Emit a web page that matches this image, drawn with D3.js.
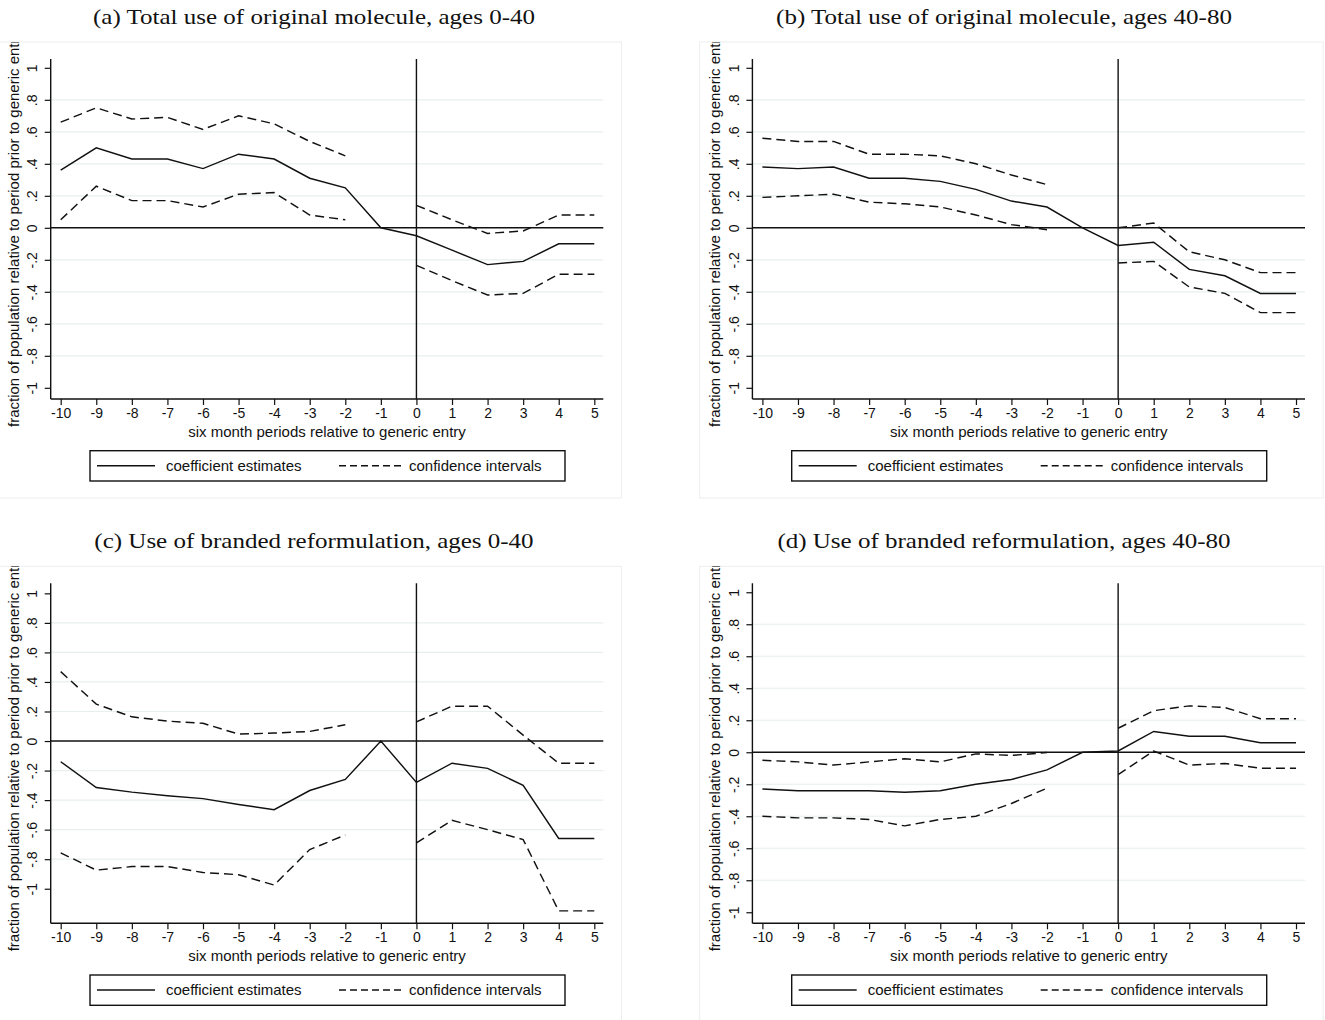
<!DOCTYPE html>
<html>
<head>
<meta charset="utf-8">
<script src="https://cdn.jsdelivr.net/npm/d3@7/dist/d3.min.js"></script>
<style>
  html, body { margin: 0; padding: 0; background: #fff; }
  svg { display: block; }
  .sans { font-family: "Liberation Sans", Arial, Helvetica, sans-serif; fill: #111; }
  .serif { font-family: "Liberation Serif", "DejaVu Serif", serif; fill: #111; }
</style>
</head>
<body>
<svg id="chart" width="1325" height="1020"></svg>
<script>
// Six-month periods relative to generic entry
const periods = [-10, -9, -8, -7, -6, -5, -4, -3, -2, -1, 0, 1, 2, 3, 4, 5];
const periodLabels = ["-10", "-9", "-8", "-7", "-6", "-5", "-4", "-3", "-2", "-1", "0", "1", "2", "3", "4", "5"];

// Y-axis ticks and their Stata-style labels
const yTicks = [-1, -0.8, -0.6, -0.4, -0.2, 0, 0.2, 0.4, 0.6, 0.8, 1];
const yTickLabels = ["-1", "-.8", "-.6", "-.4", "-.2", "0", ".2", ".4", ".6", ".8", "1"];
const gridValues = [-0.8, -0.6, -0.4, -0.2, 0.2, 0.4, 0.6, 0.8];

const panelTitles = [
  "(a) Total use of original molecule, ages 0-40",
  "(b) Total use of original molecule, ages 40-80",
  "(c) Use of branded reformulation, ages 0-40",
  "(d) Use of branded reformulation, ages 40-80"
];

const yAxisTitle = "fraction of population relative to period prior to generic entry";
const xAxisTitle = "six month periods relative to generic entry";
const legendLabels = ["coefficient estimates", "confidence intervals"];

// (a) total use of original molecule, ages 0-40
const aCoef  = [0.36, 0.50, 0.43, 0.43, 0.37, 0.46, 0.43, 0.31, 0.25, 0, -0.05, -0.14, -0.23, -0.21, -0.10, -0.10];
const aUpper = [0.66, 0.75, 0.68, 0.69, 0.615, 0.70, 0.65, 0.54, 0.45, null, 0.14, 0.05, -0.035, -0.02, 0.08, 0.08];
const aLower = [0.05, 0.26, 0.17, 0.17, 0.13, 0.21, 0.22, 0.08, 0.05, null, -0.235, -0.33, -0.42, -0.41, -0.29, -0.29];

// (b) total use of original molecule, ages 40-80
const bCoef  = [0.38, 0.37, 0.38, 0.31, 0.31, 0.29, 0.24, 0.167, 0.13, 0, -0.11, -0.09, -0.26, -0.30, -0.41, -0.41];
const bUpper = [0.56, 0.54, 0.54, 0.46, 0.46, 0.45, 0.40, 0.33, 0.27, null, 0.0, 0.03, -0.15, -0.20, -0.28, -0.28];
const bLower = [0.19, 0.20, 0.21, 0.16, 0.15, 0.13, 0.08, 0.02, -0.012, null, -0.22, -0.21, -0.37, -0.41, -0.53, -0.53];

// (c) branded reformulation, ages 0-40
const cCoef  = [-0.14, -0.315, -0.346, -0.37, -0.39, -0.43, -0.465, -0.335, -0.26, 0, -0.28, -0.15, -0.185, -0.30, -0.66, -0.66];
const cUpper = [0.47, 0.25, 0.164, 0.135, 0.12, 0.047, 0.054, 0.065, 0.11, null, 0.13, 0.236, 0.236, 0.04, -0.15, -0.15];
const cLower = [-0.757, -0.874, -0.85, -0.85, -0.89, -0.905, -0.975, -0.735, -0.636, null, -0.69, -0.537, -0.60, -0.667, -1.15, -1.15];

// (d) branded reformulation, ages 40-80
const dCoef  = [-0.23, -0.24, -0.24, -0.24, -0.25, -0.24, -0.20, -0.17, -0.11, 0, 0.008, 0.13, 0.10, 0.10, 0.06, 0.06];
const dUpper = [-0.05, -0.06, -0.08, -0.06, -0.04, -0.06, -0.01, -0.02, -0.002, null, 0.15, 0.26, 0.29, 0.28, 0.21, 0.21];
const dLower = [-0.40, -0.41, -0.41, -0.42, -0.46, -0.42, -0.40, -0.32, -0.225, null, -0.14, 0.008, -0.08, -0.07, -0.10, -0.10];

// y-axis extent of each panel (value at bottom, value at top)
const yExtents = [[-1.07, 1.055], [-1.07, 1.055], [-1.234, 1.068], [-1.069, 1.056]];

const panels = [
  { title: panelTitles[0], coef: aCoef, upper: aUpper, lower: aLower, ext: yExtents[0] },
  { title: panelTitles[1], coef: bCoef, upper: bUpper, lower: bLower, ext: yExtents[1] },
  { title: panelTitles[2], coef: cCoef, upper: cUpper, lower: cLower, ext: yExtents[2] },
  { title: panelTitles[3], coef: dCoef, upper: dUpper, lower: dLower, ext: yExtents[3] }
];

const svg = d3.select("#chart");
const ink = "#111";
const gridColor = "#e7efef";
const dash = "9,5";
const lineWidth = 1.45;
const textSize = 15;
const tickSize = 14;
const titleStretch = 1.19; // widen the caption face toward a Computer Modern set width

panels.forEach((p, i) => {
  const col = i % 2, row = Math.floor(i / 2);
  const ox = col * 701.7, oy = row * 524.3;
  const left = 50.7 + ox, right = 603.3 + ox, top = 59 + oy, bottom = 399 + oy;

  const g = svg.append("g");

  // light outer frame of the graph region
  const frame = { x: ox - 2, y: 42 + oy, w: 623.5, h: 456 };
  g.append("rect")
    .attr("x", frame.x).attr("y", frame.y)
    .attr("width", frame.w).attr("height", frame.h)
    .attr("fill", "none").attr("stroke", "#eeeeee").attr("stroke-width", 1);

  const clipId = "clip" + i;
  svg.append("clipPath").attr("id", clipId)
    .append("rect").attr("x", frame.x).attr("y", frame.y)
    .attr("width", frame.w).attr("height", frame.h);

  // panel caption
  const cap = g.append("text").attr("class", "serif")
    .attr("x", ox + (col === 0 ? 314 : 302.3)).attr("y", 24 + oy)
    .attr("text-anchor", "middle").attr("font-size", 21)
    .text(p.title);
  const natural = cap.node().getComputedTextLength();
  cap.attr("textLength", natural * titleStretch).attr("lengthAdjust", "spacingAndGlyphs");

  const x = d3.scaleLinear().domain([-10, 5]).range([left + 10, right - 9]);
  const y = d3.scaleLinear().domain(p.ext).range([bottom, top]);

  // horizontal grid
  g.append("g").selectAll("line").data(gridValues).join("line")
    .attr("x1", left).attr("x2", right)
    .attr("y1", d => y(d)).attr("y2", d => y(d))
    .attr("stroke", gridColor).attr("stroke-width", 1.2);

  // y axis
  const yAxis = d3.axisLeft(y).tickValues(yTicks)
    .tickFormat((d, k) => yTickLabels[k]).tickSize(6).tickSizeOuter(0);
  const ya = g.append("g").attr("transform", `translate(${left},0)`).call(yAxis);
  ya.attr("font-family", null).attr("font-size", null);
  ya.select(".domain").attr("d", `M0,${top}V${bottom}`).attr("stroke", ink).attr("stroke-width", 1.4);
  ya.selectAll(".tick line").attr("stroke", ink).attr("stroke-width", 1.2);
  ya.selectAll(".tick text")
    .attr("class", "sans").attr("font-size", tickSize)
    .attr("x", null).attr("dy", null)
    .attr("transform", "translate(-13.5,0) rotate(-90)")
    .attr("text-anchor", "middle").attr("fill", ink);

  // x axis
  const xAxis = d3.axisBottom(x).tickValues(periods)
    .tickFormat((d, k) => periodLabels[k]).tickSize(6).tickSizeOuter(0);
  const xa = g.append("g").attr("transform", `translate(0,${bottom})`).call(xAxis);
  xa.attr("font-family", null).attr("font-size", null);
  xa.select(".domain").attr("d", `M${left},0H${right}`).attr("stroke", ink).attr("stroke-width", 1.4);
  xa.selectAll(".tick line").attr("stroke", ink).attr("stroke-width", 1.2);
  xa.selectAll(".tick text")
    .attr("class", "sans").attr("font-size", tickSize)
    .attr("y", 19).attr("dy", null).attr("fill", ink);

  // reference lines at zero and at generic entry
  g.append("line").attr("x1", left).attr("x2", right)
    .attr("y1", y(0)).attr("y2", y(0))
    .attr("stroke", ink).attr("stroke-width", 1.4);
  g.append("line").attr("x1", x(0)).attr("x2", x(0))
    .attr("y1", top).attr("y2", bottom)
    .attr("stroke", ink).attr("stroke-width", 1.4);

  // series
  const line = d3.line()
    .defined(d => d[1] !== null)
    .x(d => x(d[0])).y(d => y(d[1]));
  const zipped = arr => periods.map((t, k) => [t, arr[k]]);

  g.append("path").datum(zipped(p.upper)).attr("d", line)
    .attr("fill", "none").attr("stroke", ink).attr("stroke-width", lineWidth)
    .attr("stroke-dasharray", dash);
  g.append("path").datum(zipped(p.lower)).attr("d", line)
    .attr("fill", "none").attr("stroke", ink).attr("stroke-width", lineWidth)
    .attr("stroke-dasharray", dash);
  g.append("path").datum(zipped(p.coef)).attr("d", line)
    .attr("fill", "none").attr("stroke", ink).attr("stroke-width", lineWidth);

  // axis titles
  g.append("text").attr("class", "sans")
    .attr("x", (left + right) / 2).attr("y", 436.5 + oy)
    .attr("text-anchor", "middle").attr("font-size", textSize)
    .text(xAxisTitle);

  g.append("g").attr("clip-path", `url(#${clipId})`)
    .append("text").attr("class", "sans")
    .attr("transform", `translate(${18.5 + ox},${(top + bottom) / 2}) rotate(-90)`)
    .attr("text-anchor", "middle").attr("font-size", textSize)
    .text(yAxisTitle);

  // legend
  const lg = g.append("g").attr("transform", `translate(${90 + ox},${450.7 + oy})`);
  lg.append("rect").attr("x", 0).attr("y", 0).attr("width", 475).attr("height", 30.3)
    .attr("fill", "#fff").attr("stroke", ink).attr("stroke-width", 1.4);
  lg.append("line").attr("x1", 7).attr("x2", 65).attr("y1", 15).attr("y2", 15)
    .attr("stroke", ink).attr("stroke-width", lineWidth);
  lg.append("text").attr("class", "sans").attr("x", 76).attr("y", 20)
    .attr("font-size", textSize).text(legendLabels[0]);
  lg.append("line").attr("x1", 249).attr("x2", 314).attr("y1", 15).attr("y2", 15)
    .attr("stroke", ink).attr("stroke-width", lineWidth).attr("stroke-dasharray", "7,4");
  lg.append("text").attr("class", "sans").attr("x", 319).attr("y", 20)
    .attr("font-size", textSize).text(legendLabels[1]);
});
</script>
</body>
</html>
